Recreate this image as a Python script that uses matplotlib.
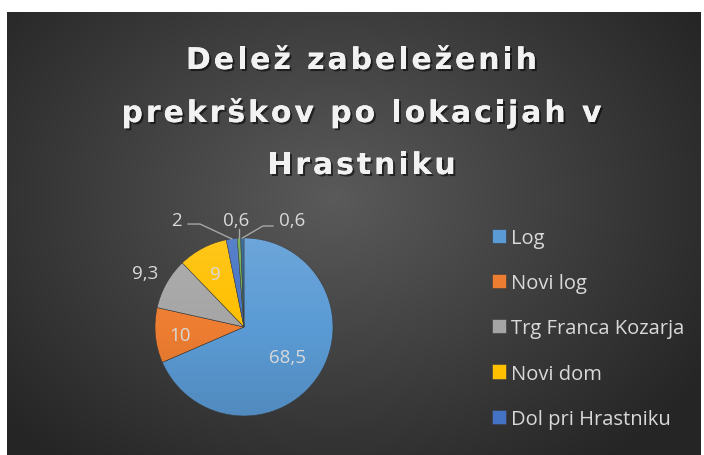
import numpy as np
import matplotlib
matplotlib.use("Agg")
import matplotlib.pyplot as plt
from matplotlib.patches import Circle
import matplotlib.patheffects as pe
from matplotlib.font_manager import FontProperties, findfont, get_font

# ---- data ----
categories = ["Log", "Novi log", "Trg Franca Kozarja", "Novi dom",
              "Dol pri Hrastniku", "Ostalo 1", "Ostalo 2"]
values = [68.5, 10, 9.3, 9, 2, 0.6, 0.6]
colors = ["#5b9bd5", "#ed7d31", "#a5a5a5", "#ffc000", "#4472c4", "#70ad47", "#255e91"]
legend_count = 5
title_lines = ["Delež zabeleženih", "prekrškov po lokacijah v", "Hrastniku"]

W, H = 704, 456
fig = plt.figure(figsize=(W / 100, H / 100), dpi=100, facecolor="white")

# ---- background with radial gradient ----
bx0, bx1, by0, by1 = 7, 701, 0, 443
bg = fig.add_axes([bx0 / W, by0 / H, (bx1 - bx0) / W, (by1 - by0) / H])
h, w = by1 - by0, bx1 - bx0
yy, xx = np.mgrid[0:h, 0:w]
cx, cy = 0.47 * w, 0.42 * h
d = np.sqrt(((xx - cx) / (0.62 * w)) ** 2 + ((yy - cy) / (0.75 * h)) ** 2)
d = np.clip(d, 0, 1)
c_in, c_out = 0x5a / 255, 0x26 / 255
g = c_in * (1 - d) + c_out * d
img = np.dstack([g, g, g])
bg.imshow(img, aspect="auto", extent=(0, 1, 0, 1), origin="upper")
bg.set_axis_off()

# ---- pie ----
pcx, pcy, R = 244, 328, 89
ax = fig.add_axes([(pcx - R) / W, (H - pcy - R) / H, 2 * R / W, 2 * R / H])
wedges, _ = ax.pie(values, colors=colors, startangle=90, counterclock=False,
                   radius=1, wedgeprops=dict(linewidth=0.4, edgecolor="#3a3a3a"))

# subtle shading over pie
gy = np.linspace(1, 0, 200)[:, None] * np.ones((1, 200))
shade = np.zeros((200, 200, 4))
shade[..., :3] = np.where(gy[..., None] > 0.5, 1.0, 0.0)
shade[..., 3] = np.abs(gy - 0.5) * 0.22
im = ax.imshow(shade, extent=(-1, 1, -1, 1), origin="upper", zorder=3)
im.set_clip_path(Circle((0, 0), 1, transform=ax.transData))
ax.set_xlim(-1, 1)
ax.set_ylim(-1, 1)
ax.set_axis_off()

lab_color = "#d9d9d9"
fs_lab = 13.5
font = "Open Sans"

def fmt(v):
    return f"{v:g}".replace(".", ",")

def mid(wd):
    a = np.deg2rad((wd.theta1 + wd.theta2) / 2)
    return np.cos(a), np.sin(a)

# inside / outside labels along the bisector
placement = {0: 0.58, 1: 0.72, 2: 1.28, 3: 0.70}
for i, r in placement.items():
    c, s = mid(wedges[i])
    ax.text(r * c, r * s, fmt(values[i]), ha="center", va="center_baseline",
            color=lab_color, fontsize=fs_lab, family=font, zorder=5, clip_on=False)

line_kw = dict(color="#a6a6a6", lw=1.0, clip_on=False, zorder=4)
# "2"
c, s = mid(wedges[4])
ax.plot([c, -0.494, -0.629], [s, 1.157, 1.157], **line_kw)
ax.text(-0.76, 1.22, fmt(values[4]), ha="center", va="center_baseline", color=lab_color,
        fontsize=fs_lab, family=font, clip_on=False)
# first 0,6
c, s = mid(wedges[5])
ax.plot([c, c], [s, 1.10], **line_kw)
ax.text(-0.09, 1.22, fmt(values[5]), ha="center", va="center_baseline", color=lab_color,
        fontsize=fs_lab, family=font, clip_on=False)
# second 0,6
c, s = mid(wedges[6])
ax.plot([c, 0.213, 0.326], [s, 1.135, 1.135], **line_kw)
ax.text(0.54, 1.22, fmt(values[6]), ha="center", va="center_baseline", color=lab_color,
        fontsize=fs_lab, family=font, clip_on=False)

# ---- title with letter spacing ----
tfp = FontProperties(family="DejaVu Sans", weight="bold", size=21.5)
ftfont = get_font(findfont(tfp))
ftfont.set_size(tfp.get_size_in_points(), 100)

def advances(s):
    return [ftfont.load_char(ord(ch)).linearHoriAdvance / 65536 for ch in s]

target_w1 = 351.0
adv1 = advances(title_lines[0])
spacing = (target_w1 - sum(adv1)) / (len(title_lines[0]) - 1)
title_cx = 361.5
baselines = [70, 123, 175]
shadow = [pe.withSimplePatchShadow(offset=(1.5, -1.5), shadow_rgbFace="black", alpha=0.55),
          pe.Normal()]
for line, yb in zip(title_lines, baselines):
    adv = advances(line)
    total = sum(adv) + spacing * (len(line) - 1)
    x = title_cx - total / 2
    for ch, a in zip(line, adv):
        if ch != " ":
            fig.text(x / W, 1 - yb / H, ch, ha="left", va="baseline", color="#f2f2f2",
                     fontproperties=tfp, path_effects=shadow)
        x += a + spacing

# ---- legend ----
leg = fig.legend(wedges[:legend_count], categories[:legend_count],
                 loc="upper left", bbox_to_anchor=(492 / W, 1 - 229 / H),
                 frameon=False, handlelength=0.7, handleheight=0.7,
                 handletextpad=0.22, labelspacing=1.25, borderaxespad=0, borderpad=0,
                 prop=dict(family=font, size=14.5))
for t in leg.get_texts():
    t.set_color(lab_color)

fig.savefig("out.png", dpi=100, facecolor="white")
